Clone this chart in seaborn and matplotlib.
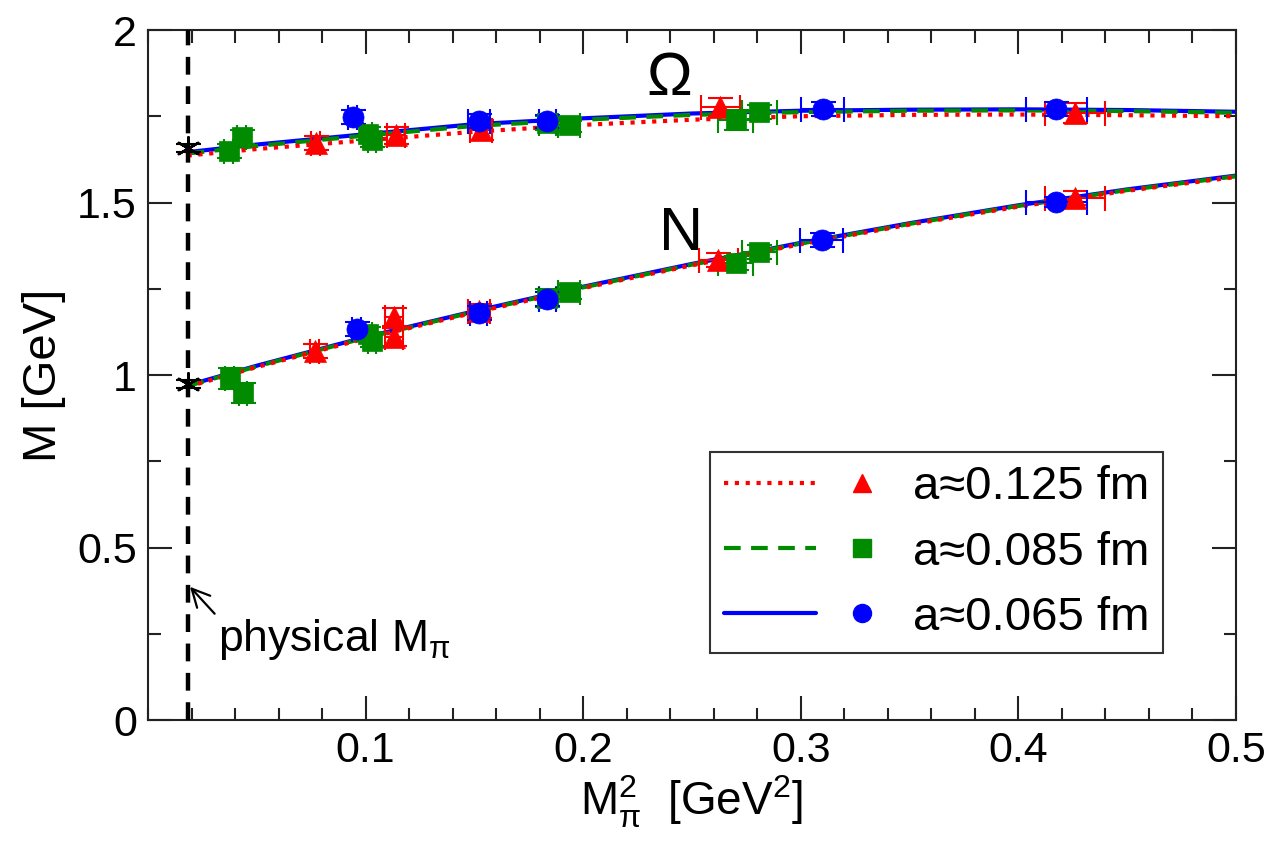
import numpy as np
import pandas as pd
import matplotlib
matplotlib.use("Agg")
import matplotlib.pyplot as plt
from matplotlib.lines import Line2D
from matplotlib.legend_handler import HandlerTuple
from matplotlib.ticker import MultipleLocator
import seaborn as sns

# ---------------- data ----------------
phys_x = 0.0182
phys_y = [1.658, 0.974]

curve_x = [0.0182, 0.05, 0.1, 0.15, 0.2, 0.25, 0.3, 0.35, 0.4, 0.45, 0.5]
omega_fit_125 = [1.636, 1.655, 1.680, 1.705, 1.725, 1.740, 1.750, 1.754, 1.755, 1.753, 1.750]
omega_fit_085 = [1.642, 1.664, 1.694, 1.722, 1.740, 1.754, 1.762, 1.766, 1.767, 1.765, 1.760]
omega_fit_065 = [1.646, 1.668, 1.698, 1.727, 1.744, 1.758, 1.766, 1.769, 1.770, 1.768, 1.763]
n_fit_125 = [0.966, 1.023, 1.106, 1.181, 1.252, 1.318, 1.379, 1.436, 1.488, 1.534, 1.574]
n_fit_085 = [0.968, 1.025, 1.108, 1.183, 1.254, 1.320, 1.381, 1.438, 1.490, 1.536, 1.576]
n_fit_065 = [0.970, 1.027, 1.110, 1.185, 1.256, 1.322, 1.383, 1.440, 1.492, 1.538, 1.578]

# a ~ 0.125 fm (red triangles)
om125_x = [0.077, 0.114, 0.153, 0.263, 0.426]
om125_y = [1.672, 1.695, 1.710, 1.777, 1.759]
om125_xerr = [0.002, 0.004, 0.005, 0.009, 0.014]
om125_yerr = [0.02, 0.025, 0.03, 0.025, 0.03]
n125_x = [0.0766, 0.113, 0.113, 0.152, 0.262, 0.426]
n125_y = [1.070, 1.168, 1.110, 1.185, 1.333, 1.513]
n125_xerr = [0.002, 0.004, 0.004, 0.005, 0.009, 0.014]
n125_yerr = [0.02, 0.025, 0.025, 0.02, 0.02, 0.02]

# a ~ 0.085 fm (green squares)
om085_x = [0.037, 0.043, 0.101, 0.103, 0.1835, 0.1936, 0.270, 0.281]
om085_y = [1.649, 1.690, 1.700, 1.680, 1.730, 1.725, 1.739, 1.762]
om085_xerr = [0.002, 0.002, 0.002, 0.002, 0.004, 0.005, 0.008, 0.008]
om085_yerr = [0.02, 0.02, 0.02, 0.02, 0.02, 0.02, 0.03, 0.02]
n085_x = [0.0376, 0.0436, 0.101, 0.103, 0.1835, 0.1936, 0.270, 0.281]
n085_y = [0.990, 0.948, 1.120, 1.100, 1.223, 1.241, 1.325, 1.357]
n085_xerr = [0.002, 0.002, 0.002, 0.002, 0.004, 0.005, 0.008, 0.008]
n085_yerr = [0.03, 0.03, 0.02, 0.02, 0.025, 0.02, 0.02, 0.02]

# a ~ 0.065 fm (blue circles)
om065_x = [0.094, 0.152, 0.1835, 0.310, 0.4175]
om065_y = [1.748, 1.736, 1.735, 1.771, 1.771]
om065_xerr = [0.002, 0.005, 0.004, 0.010, 0.0138]
om065_yerr = [0.02, 0.02, 0.02, 0.02, 0.02]
n065_x = [0.0959, 0.152, 0.1835, 0.3096, 0.4175]
n065_y = [1.133, 1.180, 1.220, 1.391, 1.501]
n065_xerr = [0.002, 0.004, 0.004, 0.010, 0.014]
n065_yerr = [0.02, 0.02, 0.02, 0.02, 0.015]

labels = ["a≈0.125 fm", "a≈0.085 fm", "a≈0.065 fm"]
colors = ["#ff0000", "#008b00", "#0000ff"]
markers = ["^", "s", "o"]
linestyles = [(0, (1, 1.6)), (0, (4, 2.5)), "-"]

# ---------------- style ----------------
sns.set_theme(style="ticks")
plt.rcParams["font.family"] = ["Liberation Sans", "DejaVu Sans"]
plt.rcParams["mathtext.fontset"] = "custom"
plt.rcParams["mathtext.rm"] = "Liberation Sans"
plt.rcParams["mathtext.it"] = "Liberation Sans"
plt.rcParams["mathtext.sf"] = "Liberation Sans"
plt.rcParams["text.color"] = "black"
plt.rcParams["axes.labelcolor"] = "black"
plt.rcParams["xtick.color"] = "black"
plt.rcParams["ytick.color"] = "black"
plt.rcParams["xtick.labelcolor"] = "black"
plt.rcParams["ytick.labelcolor"] = "black"

fig = plt.figure(figsize=(12.76, 8.48), dpi=100)
ax = fig.add_axes([148 / 1276, 1 - 720 / 848, 1088 / 1276, 690 / 848])

# fit curves (blue bottom, green, red on top)
fits = [
    (omega_fit_065, n_fit_065, 2),
    (omega_fit_085, n_fit_085, 1),
    (omega_fit_125, n_fit_125, 0),
]
for om_fit, n_fit, i in fits:
    for yy in (om_fit, n_fit):
        df = pd.DataFrame({"x": curve_x, "y": yy})
        sns.lineplot(data=df, x="x", y="y", ax=ax, color=colors[i],
                     linestyle=linestyles[i], linewidth=3, zorder=2 + (2 - i) * 0.1,
                     legend=False)

# vertical physical line
ax.axvline(phys_x, color="black", linestyle=(0, (4, 2.6)), linewidth=3.2, zorder=3)

series = [
    (om125_x, om125_y, om125_xerr, om125_yerr, n125_x, n125_y, n125_xerr, n125_yerr),
    (om085_x, om085_y, om085_xerr, om085_yerr, n085_x, n085_y, n085_xerr, n085_yerr),
    (om065_x, om065_y, om065_xerr, om065_yerr, n065_x, n065_y, n065_xerr, n065_yerr),
]
msizes = [250, 200, 230]
for i, s in enumerate(series):
    for (xs, ys, xe, ye) in ((s[0], s[1], s[2], s[3]), (s[4], s[5], s[6], s[7])):
        ax.errorbar(xs, ys, xerr=xe, yerr=ye, fmt="none", ecolor=colors[i],
                    elinewidth=1.5, capsize=9, capthick=1.5, zorder=4)
        df = pd.DataFrame({"x": xs, "y": ys})
        sns.scatterplot(data=df, x="x", y="y", ax=ax, color=colors[i],
                        marker=markers[i], s=msizes[i], edgecolor=colors[i],
                        linewidth=0.5, zorder=5, legend=False)

# physical points (stars)
ax.errorbar([phys_x, phys_x], phys_y, yerr=[0.012, 0.012], fmt="none",
            ecolor="black", elinewidth=1.5, capsize=9, capthick=1.5, zorder=6)
ax.scatter([phys_x, phys_x], phys_y, marker=(6, 2, 0), s=260, color="black",
           linewidths=1.8, zorder=7)

# labels inside
ax.text(0.229, 1.812, "Ω", fontsize=44, ha="left", va="baseline", color="black")
ax.text(0.235, 1.362, "N", fontsize=44, ha="left", va="baseline", color="black")
ax.annotate("physical M$_{\\pi}$", xy=(0.0193, 0.386), xytext=(0.032, 0.2),
            fontsize=32, ha="left", va="baseline", color="black",
            arrowprops=dict(arrowstyle="->", color="black", lw=1.6,
                            shrinkA=0, shrinkB=0, relpos=(0.0, 1.0)))

# axes
ax.set_xlim(0, 0.5)
ax.set_ylim(0, 2)
ax.xaxis.set_major_locator(MultipleLocator(0.1))
ax.xaxis.set_minor_locator(MultipleLocator(0.02))
ax.yaxis.set_major_locator(MultipleLocator(0.5))
ax.yaxis.set_minor_locator(MultipleLocator(0.25))
ax.set_xticks([0.1, 0.2, 0.3, 0.4, 0.5])
ax.set_xticklabels(["0.1", "0.2", "0.3", "0.4", "0.5"])
ax.set_yticks([0, 0.5, 1, 1.5, 2])
ax.set_yticklabels(["0", "0.5", "1", "1.5", "2"])
ax.tick_params(which="both", direction="in", top=True, right=True, color="#222222",
               width=1.5, labelcolor="black")
ax.tick_params(which="major", length=17, labelsize=31, pad=8)
ax.tick_params(which="minor", length=9)
for sp in ax.spines.values():
    sp.set_linewidth(1.5)
    sp.set_color("#222222")
ax.set_xlabel("M$_{\\pi}^{2}$  [GeV$^{2}$]", fontsize=33, labelpad=2, color="black")
ax.set_ylabel("M [GeV]", fontsize=34, labelpad=8, color="black")

# legend
handles = []
for i in range(3):
    ln = Line2D([], [], color=colors[i], linestyle=linestyles[i], linewidth=3)
    mk = Line2D([], [], color=colors[i], marker=markers[i], linestyle="none",
                markersize=13)
    handles.append((ln, mk))
leg = ax.legend(handles, labels, handler_map={tuple: HandlerTuple(ndivide=None, pad=0.0)},
                loc="lower right", bbox_to_anchor=(0.933, 0.097), borderaxespad=0,
                fontsize=34, handlelength=3.9, handletextpad=0.12,
                labelspacing=0.45, borderpad=0.28, fancybox=False, framealpha=1)
leg.get_frame().set_edgecolor("#333333")
leg.get_frame().set_linewidth(1.5)
for t in leg.get_texts():
    t.set_color("black")

fig.savefig("out.png", dpi=100)
